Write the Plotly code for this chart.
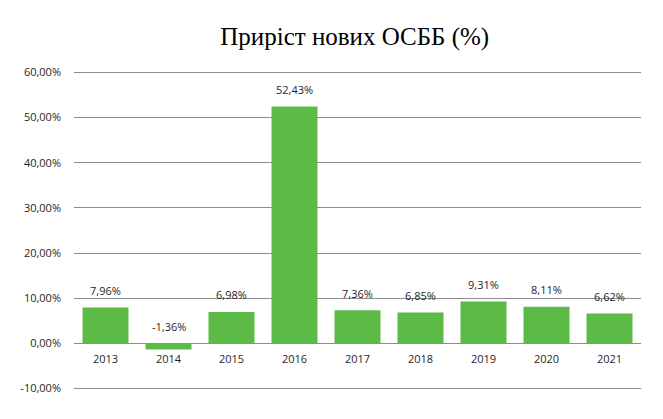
import plotly.graph_objects as go

years = ["2013", "2014", "2015", "2016", "2017", "2018", "2019", "2020", "2021"]
growth = [7.96, -1.36, 6.98, 52.43, 7.36, 6.85, 9.31, 8.11, 6.62]
y_ticks = [-10, 0, 10, 20, 30, 40, 50, 60]

def pct(v):
    return f"{v:.2f}".replace(".", ",") + "%"

label_font = dict(family="Open Sans, sans-serif", size=11, color="#1f1f1f")

fig = go.Figure()
fig.add_trace(go.Bar(
    x=years, y=growth,
    marker=dict(color="#5cba47", line=dict(width=0)),
    width=0.73,
    hoverinfo="x+y",
))

# value labels above bars (above zero line for negatives, as in Excel),
# category labels just under the zero line
for i, (yr, v) in enumerate(zip(years, growth)):
    fig.add_annotation(
        x=i, y=max(v, 0), xref="x", yref="y", text=pct(v), showarrow=False,
        yshift=17, font=label_font,
    )
    fig.add_annotation(
        x=i, y=0, xref="x", yref="y", text=yr, showarrow=False,
        yshift=-15, font=label_font,
    )

fig.update_layout(
    width=663, height=419,
    margin=dict(l=64, r=30, t=63, b=37),
    paper_bgcolor="white", plot_bgcolor="white",
    showlegend=False,
    title=dict(
        text="Приріст нових ОСББ (%)",
        x=0.523, xanchor="center", y=0.933, yanchor="middle",
        font=dict(family="Liberation Serif, serif", size=25, color="#000000"),
    ),
    xaxis=dict(
        type="category", range=[-0.5, 8.5],
        showgrid=False, showline=False, ticks="", showticklabels=False,
    ),
    yaxis=dict(
        range=[-10.3, 60.3], tickvals=y_ticks, ticktext=[pct(t) for t in y_ticks],
        showgrid=True, gridcolor="#8c8c8c", gridwidth=1,
        zeroline=True, zerolinecolor="#8c8c8c", zerolinewidth=1,
        showline=False, ticks="", ticklen=0, ticklabelstandoff=12,
        tickfont=label_font,
    ),
)

fig.write_html("out.html")
